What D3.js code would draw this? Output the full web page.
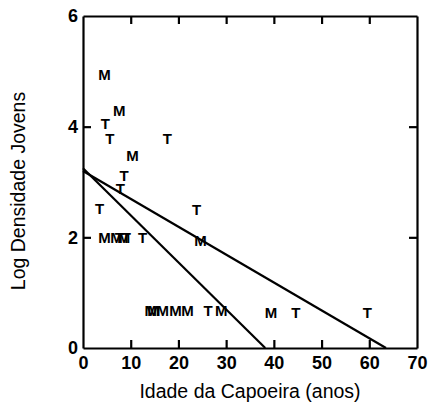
<!DOCTYPE html>
<html>
<head>
<meta charset="utf-8">
<script src="https://cdn.jsdelivr.net/npm/d3@7"></script>
<style>
  body { margin: 0; background: #fff; }
  svg { display: block; }
  .axis text { font-family: "Liberation Sans", Arial, sans-serif; font-weight: bold; font-size: 18px; fill: #000; }
  .axis path, .axis line { stroke: #000; stroke-width: 2.2px; }
</style>
</head>
<body>
<div id="chart"></div>
<script>
//Chart data

//Marker letter (M or T), stand age (years) and log density of young plants
var labels = ["M", "M", "T", "T", "T", "M", "T", "T", "T", "T",
              "M", "M", "T", "M", "T", "T", "M",
              "M", "M", "M", "M", "M", "T", "M", "M", "T", "T"];
var ages = [4.5, 7.6, 4.7, 5.6, 17.7, 10.4, 8.6, 7.8, 3.5, 23.8,
            4.5, 7.0, 7.6, 8.6, 9.1, 12.5, 24.6,
            14.2, 14.8, 16.7, 19.4, 21.9, 26.2, 29.0, 39.4, 44.6, 59.6];
var densities = [4.95, 4.3, 4.05, 3.78, 3.78, 3.48, 3.12, 2.88, 2.52, 2.5,
                 2.0, 2.0, 2.0, 2.0, 2.0, 2.0, 1.95,
                 0.68, 0.68, 0.68, 0.68, 0.68, 0.68, 0.68, 0.65, 0.65, 0.65];

//Fitted lines: intercept at age 0 and age where density reaches 0
var fitIntercepts = [3.25, 3.2];
var fitZeroAges = [38.2, 63.5];

//Ticks
var xTicks = [0, 10, 20, 30, 40, 50, 60, 70];
var yTicks = [0, 2, 4, 6];

//Configuration
var configuration = {
    width: 434,
    height: 412,
    margin: { top: 16, right: 17, bottom: 64, left: 83 }
};

var m = configuration.margin;
var innerWidth = configuration.width - m.left - m.right;
var innerHeight = configuration.height - m.top - m.bottom;

var svg = d3.select("#chart")
    .append("svg")
        .attr("width", configuration.width)
        .attr("height", configuration.height);

var graph = svg.append("g")
    .attr("transform", `translate(${m.left}, ${m.top})`);

//Scales
var x = d3.scaleLinear().domain([0, 70]).range([0, innerWidth]);
var y = d3.scaleLinear().domain([0, 6]).range([innerHeight, 0]);

//Axes - ticks point inwards on all four sides
graph.append("g")
    .attr("class", "axis")
    .attr("transform", `translate(0, ${innerHeight})`)
    .call(d3.axisBottom(x).tickValues(xTicks).tickSizeInner(-8).tickSizeOuter(0)
        .tickPadding(8).tickFormat(d3.format("d")));

graph.append("g")
    .attr("class", "axis")
    .call(d3.axisTop(x).tickValues(xTicks.slice(1, -1)).tickSizeInner(-8).tickSizeOuter(0).tickFormat(""));

graph.append("g")
    .attr("class", "axis")
    .call(d3.axisLeft(y).tickValues(yTicks).tickSizeInner(-8).tickSizeOuter(0)
        .tickPadding(5).tickFormat(d3.format("d")));

graph.append("g")
    .attr("class", "axis")
    .attr("transform", `translate(${innerWidth}, 0)`)
    .call(d3.axisRight(y).tickValues(yTicks.slice(1, -1)).tickSizeInner(-8).tickSizeOuter(0).tickFormat(""));

//Hide the tick marks at the corners
graph.selectAll(".axis .tick line")
    .filter(function(d) { return d === 0 || d === 70 || d === 6; })
    .remove();

//Fitted lines
var line = d3.line()
    .x(function(d) { return x(d[0]); })
    .y(function(d) { return y(d[1]); });

fitIntercepts.forEach(function(b, i) {
    graph.append("path")
        .attr("d", line([[0, b], [fitZeroAges[i], 0]]))
        .attr("fill", "none")
        .attr("stroke", "#000")
        .attr("stroke-width", 2.2);
});

//Letter markers
graph.selectAll(".mark")
    .data(labels)
    .enter()
    .append("text")
        .attr("class", "mark")
        .attr("x", function(d, i) { return x(ages[i]); })
        .attr("y", function(d, i) { return y(densities[i]); })
        .attr("text-anchor", "middle")
        .attr("dominant-baseline", "central")
        .style("font-family", "Liberation Sans, Arial, sans-serif")
        .style("font-weight", "bold")
        .style("font-size", "15px")
        .text(function(d) { return d; });

//Axis titles
svg.append("text")
    .attr("x", m.left + innerWidth / 2)
    .attr("y", 398)
    .attr("text-anchor", "middle")
    .style("font-family", "Liberation Sans, Arial, sans-serif")
    .style("font-size", "19.5px")
    .text("Idade da Capoeira (anos)");

svg.append("text")
    .attr("transform", "translate(25, 191) rotate(-90)")
    .attr("text-anchor", "middle")
    .style("font-family", "Liberation Sans, Arial, sans-serif")
    .style("font-size", "19.5px")
    .text("Log Densidade Jovens");
</script>
</body>
</html>
